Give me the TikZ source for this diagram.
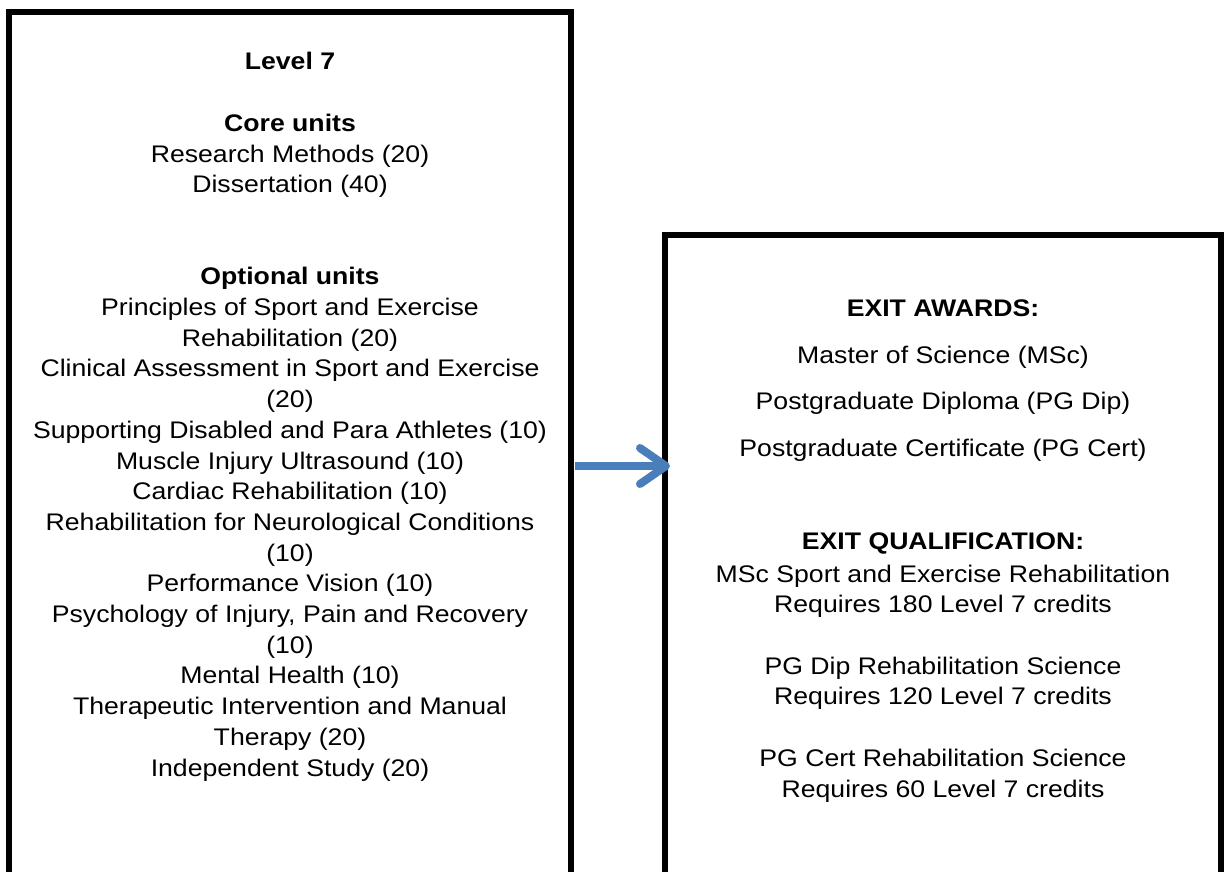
\documentclass[tikz,border=0pt]{standalone}
\usepackage{fontspec}
\setmainfont{Liberation Sans}[FakeStretch=1.11]
\usetikzlibrary{arrows.meta}

\definecolor{arrowblue}{RGB}{74,126,187}

\tikzset{
  boxline/.style={line width=3pt, line join=miter},
  unitlist/.style={align=center, inner sep=0pt, font=\fontsize{12}{15.35}\selectfont},
  exitarrow/.style={arrowblue, line width=4pt, -{Straight Barb[length=13pt,width=18pt,round]}}
}

\begin{document}
\begin{tikzpicture}[x=0.5pt, y=-0.5pt]

  \useasboundingbox (0,0) rectangle (1227,872);

  % the two open boxes
  \draw[boxline] (9,900) -- (9,12) -- (571,12) -- (571,900);
  \draw[boxline] (665,900) -- (665,235) -- (1221,235) -- (1221,900);

  % base anchor sits on the last line
  \node[unitlist, anchor=base] (units) at (290,776) {
    \textbf{Level 7}\\
    ~\\
    \textbf{Core units}\\
    Research Methods (20)\\
    Dissertation (40)\\
    ~\\
    ~\\
    \textbf{Optional units}\\
    Principles of Sport and Exercise\\
    Rehabilitation (20)\\
    Clinical Assessment in Sport and Exercise\\
    (20)\\
    Supporting Disabled and Para Athletes (10)\\
    Muscle Injury Ultrasound (10)\\
    Cardiac Rehabilitation (10)\\
    Rehabilitation for Neurological Conditions\\
    (10)\\
    Performance Vision (10)\\
    Psychology of Injury, Pain and Recovery\\
    (10)\\
    Mental Health (10)\\
    Therapeutic Intervention and Manual\\
    Therapy (20)\\
    Independent Study (20)};

  \node[unitlist, anchor=base] (awards) at (943,797) {
    \textbf{EXIT AWARDS:}\\[7.9pt]
    Master of Science (MSc)\\[7.9pt]
    Postgraduate Diploma (PG Dip)\\[7.9pt]
    Postgraduate Certificate (PG Cert)\\[7.9pt]
    ~\\[7.9pt]
    \textbf{EXIT QUALIFICATION:}\\[1pt]
    MSc Sport and Exercise Rehabilitation\\
    Requires 180 Level 7 credits\\
    ~\\
    PG Dip Rehabilitation Science\\
    Requires 120 Level 7 credits\\
    ~\\
    PG Cert Rehabilitation Science\\
    Requires 60 Level 7 credits};

  \coordinate (arrowstart) at (575,466);
  \coordinate (arrowend) at (670,466);
  \draw[exitarrow] (arrowstart) -- (arrowend);

\end{tikzpicture}
\end{document}
